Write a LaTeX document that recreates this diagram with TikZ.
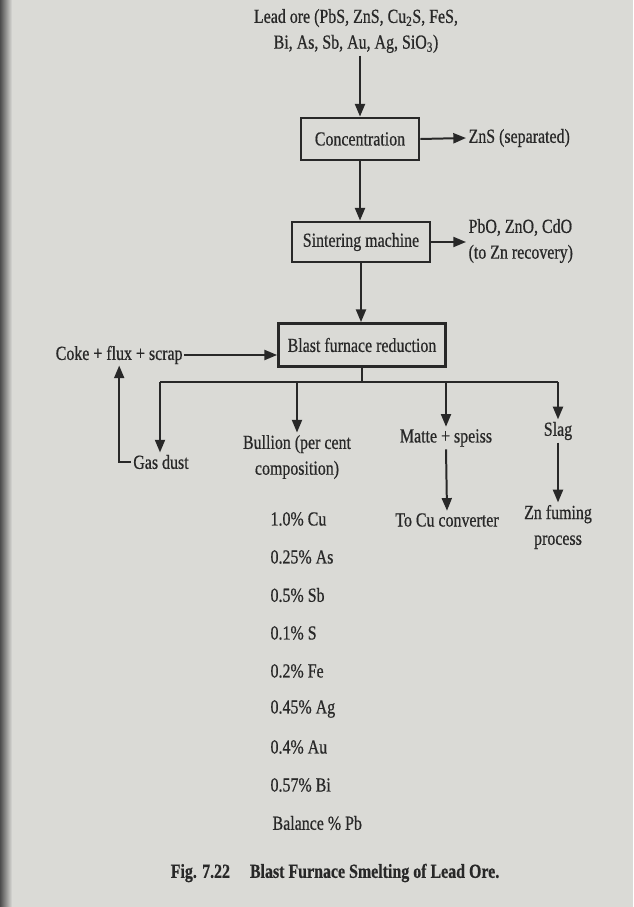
\documentclass[tikz,border=0pt]{standalone}
\usepackage{fontspec}
\setmainfont{Liberation Serif}[FakeStretch=0.8, FakeBold=0.6]
\usepackage{xcolor}
\usepackage{tikz}
\usetikzlibrary{positioning, arrows.meta, calc}
\definecolor{paper}{RGB}{218,218,214}
\definecolor{ink}{RGB}{40,40,40}

\begin{document}
\begin{tikzpicture}[
    x=0.3mm, y=-0.3mm,
    font=\fontsize{17}{22}\selectfont,
    text=ink,
    stage/.style={
        rectangle,
        draw=ink,
        line width=2.4pt,
        minimum height=12.6mm,
        inner sep=2pt,
        align=center
    },
    txt/.style={inner sep=2pt, align=center},
    flow/.style={-{Triangle[length=3.8mm, width=3mm]}, draw=ink, line width=1.7pt},
    link/.style={draw=ink, line width=1.7pt}
]

% Paper
\fill[paper] (0,0) rectangle (633,907);
\shade[left color=black!70, right color=paper] (0,0) rectangle (12,907);
\useasboundingbox (0,0) rectangle (633,907);

% Stages
\node[txt] (ore) at (356,31) {Lead ore (PbS, ZnS, Cu\textsubscript{2}S, FeS,\\ Bi, As, Sb, Au, Ag, SiO\textsubscript{3})};
\node[stage, minimum width=35.4mm] (conc) at (360,139) {Concentration};
\node[stage, minimum width=41.4mm, minimum height=12mm] (sint) at (361,242) {Sintering machine};
\node[stage, minimum width=50.1mm, minimum height=12.9mm] (bf) at (362,345) {Blast furnace reduction};

% Side streams
\node[txt, anchor=west] (zns) at (466,138) {ZnS (separated)};
\node[txt, anchor=west, align=left] (pbo) at (466,241) {PbO, ZnO, CdO\\ (to Zn recovery)};
\node[txt, anchor=east, inner sep=1pt] (coke) at (184,355) {Coke + flux + scrap};

% Products
\node[txt] (gas)   at (161,462) {Gas dust};
\node[txt] (bull)  at (297,457) {Bullion (per cent\\ composition)};
\node[txt] (matte) at (446,438) {Matte + speiss};
\node[txt] (slag)  at (558,431) {Slag};
\node[txt] (cuc)   at (447,520) {To Cu converter};
\node[txt] (znf)   at (558,527) {Zn fuming\\ process};

% Bullion composition
\node[txt, anchor=west] (pcu) at (268,519) {1.0\% Cu};
\node[txt, anchor=west] (pas) at (268,557) {0.25\% As};
\node[txt, anchor=west] (psb) at (268,595) {0.5\% Sb};
\node[txt, anchor=west] (ps)  at (268,633) {0.1\% S};
\node[txt, anchor=west] (pfe) at (268,671) {0.2\% Fe};
\node[txt, anchor=west] (pag) at (268,709) {0.45\% Ag};
\node[txt, anchor=west] (pau) at (268,747) {0.4\% Au};
\node[txt, anchor=west] (pbi) at (268,785) {0.57\% Bi};
\node[txt, anchor=west] (ppb) at (270,823) {Balance \% Pb};

% Caption
\node[txt, font=\fontsize{17}{22}\selectfont\bfseries] (cap) at (335,873) {Fig. 7.22\quad Blast Furnace Smelting of Lead Ore.};

% Main line
\draw[flow] (conc.north |- ore.south) -- (conc.north);
\draw[flow] (conc.south) -- (conc.south |- sint.north);
\draw[flow] (sint.south) -- (sint.south |- bf.north);
\draw[flow] (conc.east) -- (zns.west);
\draw[flow] (sint.east) -- (sint.east -| pbo.west);
\draw[flow] (coke.east) -- (coke.east -| bf.west);

% Distribution below the furnace
\coordinate (busL) at (160,382);
\coordinate (busR) at (558,382);
\draw[link] (bf.south) -- (bf.south |- busL);
\draw[link] (busL) -- (busR);
\draw[flow] (busL) -- (busL |- gas.north);
\draw[flow] (bull.north |- busL) -- (bull.north);
\draw[flow] (matte.north |- busL) -- (matte.north);
\draw[flow] (busR) -- (busR |- slag.north);
\draw[flow] (gas.west) -| (coke.south);
\draw[flow] (matte.south) -- (cuc.north);
\draw[flow] (slag.south) -- (znf.north);

\end{tikzpicture}
\end{document}
